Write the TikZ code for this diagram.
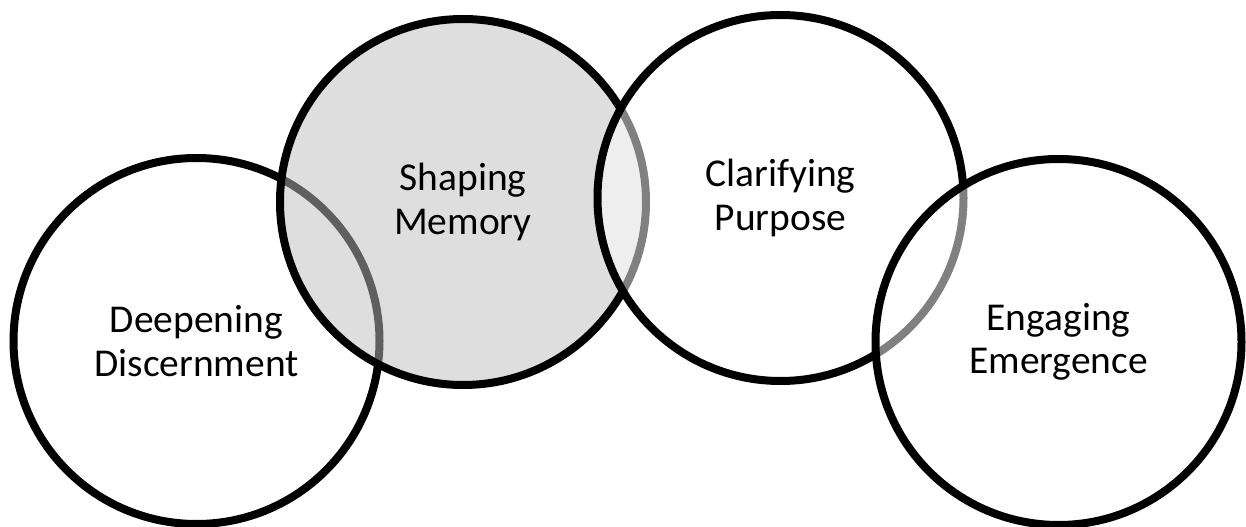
\documentclass[tikz,border=0pt]{standalone}
\usepackage{fontspec}
\setmainfont{Carlito}
\newlength{\du}
\setlength{\du}{0.75pt}

\begin{document}
\begin{tikzpicture}
\pgftransformxscale{1.000000}
\pgftransformyscale{-1.000000}
\useasboundingbox (0\du,0\du) rectangle (1246\du,527\du);
\definecolor{dialinecolor}{rgb}{0.000000, 0.000000, 0.000000}
\definecolor{ringfill}{rgb}{0.745098, 0.745098, 0.745098}
\tikzset{ring/.style={circle, draw=dialinecolor, line width=8.000000\du, minimum size=366.000000\du, inner sep=0pt, align=center, fill opacity=0.5, text opacity=1, font=\fontsize{29.6}{32.6}\selectfont}}
% Deepening Discernment
\node[ring, fill=white] (discern) at (196.500000\du,341.000000\du){Deepening\\Discernment};
% Shaping Memory
\node[ring, fill=ringfill] (memory) at (463.000000\du,202.000000\du){Shaping\\Memory};
% Clarifying Purpose
\node[ring, fill=white] (purpose) at (780.500000\du,198.000000\du){Clarifying\\Purpose};
% Engaging Emergence
\node[ring, fill=white] (emerge) at (1058.500000\du,342.000000\du){Engaging\\Emergence};
\end{tikzpicture}
\end{document}
